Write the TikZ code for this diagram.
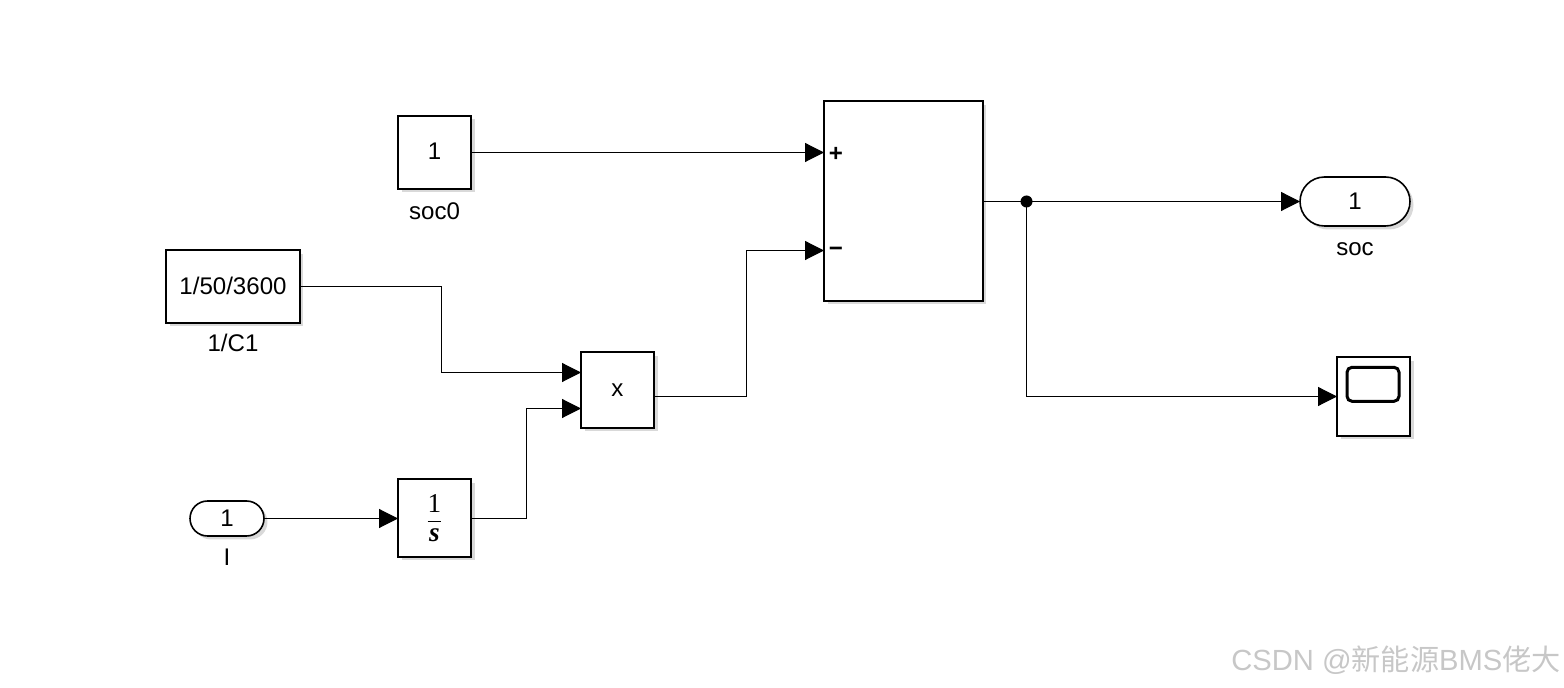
\documentclass[tikz,border=0pt]{standalone}
\usepackage{fontspec}
\usepackage{amsmath}
\usepackage{xcolor}
\setmainfont{Liberation Sans}
\newfontfamily\cjkfont{Noto Sans CJK SC}
\newfontfamily\serifnum{Liberation Serif}
\usetikzlibrary{shapes,arrows.meta,positioning,shadows}

\begin{document}
\begin{tikzpicture}[
    x=0.02cm, y=-0.02cm,
    block/.style={rectangle, draw, line width=0.032cm, fill=white, font=\fontsize{13.7}{15}\selectfont, inner sep=0pt,
        drop shadow={shadow xshift=0.07cm, shadow yshift=-0.07cm, opacity=0.3}},
    port/.style={block, shape=rounded rectangle, minimum height=0.7cm},
    wire/.style={-{Triangle[length=0.38cm, width=0.38cm]}, line width=0.022cm},
    plainwire/.style={line width=0.022cm},
    label/.style={font=\fontsize{13.7}{15}\selectfont, inner sep=0pt}
]
\useasboundingbox (0,0) rectangle (1564,688);

% Constant
\node[block, minimum width=1.46cm, minimum height=1.46cm] (Soc0) at (434.5,152.5) {\raisebox{0.04cm}{1}};
\node[label, below=0.26cm of Soc0] {soc0};

% Gain
\node[block, minimum width=2.68cm, minimum height=1.46cm] (Cap) at (233,286.5) {\raisebox{0.02cm}{1/50/3600}};
\node[label, below=0.2cm of Cap] {1/C1};

% Inport
\node[port, minimum width=1.48cm, minimum height=0.7cm] (In) at (227,518.5) {1};
\node[label, below=0.24cm of In] {I};

% Integrator
\node[block, minimum width=1.46cm, minimum height=1.56cm] (Int) at (434.5,518) {\fontsize{13}{15}\selectfont$\dfrac{\text{\serifnum\fontsize{15.5}{15.5}\selectfont 1}}{\text{\serifnum\fontsize{15.5}{15.5}\selectfont\bfseries\itshape s}}$};

% Product
\node[block, minimum width=1.46cm, minimum height=1.52cm] (Prod) at (617.5,390) {x};

% Sum
\node[block, minimum width=3.18cm, minimum height=4cm] (Sum) at (903.5,201) {};
\node[label, font=\bfseries\fontsize{13.7}{15}\selectfont] (Plus) at (836,154) {+};
\node[label, font=\bfseries\fontsize{13.7}{15}\selectfont] (Minus) at (836,252) {\textminus};

% Outport
\node[port, minimum width=2.2cm, minimum height=0.98cm] (Out) at (1355,201.5) {1};
\node[label, below=0.3cm of Out] {soc};

% Scope
\node[block, minimum width=1.46cm, minimum height=1.58cm] (Scope) at (1373.5,396.5) {};
\node[rectangle, draw, line width=0.06cm, rounded corners=0.1cm, minimum width=1.04cm, minimum height=0.68cm] (Screen) at (1373,384.3) {};

% Port coordinates
\coordinate (SumP) at (824,152.5);
\coordinate (SumM) at (824,250.5);
\coordinate (SumOut) at (983,201.5);
\coordinate (ProdA) at (581,372.5);
\coordinate (ProdB) at (581,408.5);
\coordinate (ProdOut) at (654,396.5);
\coordinate (CapOut) at (300,286.5);
\coordinate (IntIn) at (398,518.5);
\coordinate (IntOut) at (471,518.5);
\coordinate (ScopeIn) at (1337,396.5);
\coordinate (OutIn) at (1300,201.5);
\coordinate (Branch) at (1026.5,201.5);

% Arrows
\draw[wire] (Soc0.east |- SumP) -- (SumP);
\draw[wire] (CapOut) -- (441.5,286.5) |- (ProdA);
\draw[wire] (In.east |- IntIn) -- (IntIn);
\draw[wire] (IntOut) -- (526.5,518.5) |- (ProdB);
\draw[wire] (ProdOut) -- (746.5,396.5) |- (SumM);
\draw[plainwire] (SumOut) -- (Branch);
\draw[wire] (Branch) -- (OutIn);
\draw[wire] (Branch) |- (ScopeIn);
\fill (Branch) circle (6);

% Watermark
\node[inner sep=0pt, text=black!22, font=\fontsize{16.6}{20}\selectfont] (Mark) at (1396,660) {CSDN @{\cjkfont 新能源}BMS{\cjkfont 佬大}};

\end{tikzpicture}
\end{document}
